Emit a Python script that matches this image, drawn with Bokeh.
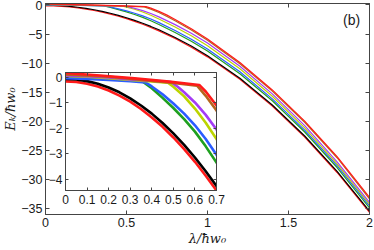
from bokeh.plotting import figure
from bokeh.models import LinearAxis, FixedTicker, Label, GridBox
from bokeh.embed import file_html
from bokeh.resources import INLINE

# ---- data (lambda / hbar w0 , E_k / hbar w0) ----
lam_red_low = [0, 0.05, 0.1, 0.15, 0.2, 0.25, 0.3, 0.35, 0.4, 0.45, 0.5, 0.55, 0.6, 0.65, 0.7,
               0.8, 0.9, 1.0, 1.2, 1.4, 1.6, 1.8, 2.0]
e_red_low = [-0.15, -0.17, -0.24, -0.35, -0.51, -0.71, -0.95, -1.24, -1.57, -1.94, -2.36, -2.82,
             -3.32, -3.87, -4.45, -5.77, -7.25, -8.92, -12.78, -17.38, -22.71, -28.78, -35.62]

lam_black = [0, 0.05, 0.1, 0.15, 0.2, 0.25, 0.3, 0.35, 0.4, 0.45, 0.5, 0.55, 0.6, 0.65, 0.7,
             0.8, 0.9, 1.0, 1.2, 1.4, 1.6, 1.8, 2.0]
e_black = [-0.05, -0.07, -0.14, -0.24, -0.39, -0.58, -0.82, -1.10, -1.42, -1.79, -2.20, -2.65,
           -3.15, -3.69, -4.27, -5.58, -7.06, -8.72, -12.58, -17.18, -22.51, -28.58, -35.41]

lam_green = [0, 0.1, 0.2, 0.3, 0.355, 0.4, 0.45, 0.5, 0.55, 0.6, 0.65, 0.7, 0.8, 0.9, 1.0,
             1.2, 1.4, 1.6, 1.8, 2.0]
e_green = [0.04, 0.01, -0.04, -0.10, -0.14, -0.42, -0.80, -1.20, -1.64, -2.13, -2.71, -3.35,
           -4.72, -6.22, -7.92, -11.82, -16.46, -21.83, -27.93, -34.85]

lam_blue = [0, 0.1, 0.2, 0.3, 0.37, 0.4, 0.45, 0.5, 0.55, 0.6, 0.65, 0.7, 0.8, 0.9, 1.0,
            1.2, 1.4, 1.6, 1.8, 2.0]
e_blue = [-0.02, -0.05, -0.09, -0.14, -0.19, -0.35, -0.66, -1.02, -1.42, -1.88, -2.42, -3.04,
          -4.38, -5.88, -7.58, -11.48, -16.13, -21.50, -27.60, -34.50]

lam_yellow = [0, 0.1, 0.2, 0.3, 0.4, 0.475, 0.5, 0.55, 0.6, 0.65, 0.7, 0.8, 0.9, 1.0,
              1.2, 1.4, 1.6, 1.8, 2.0]
e_yellow = [0.06, 0.03, -0.02, -0.09, -0.15, -0.20, -0.36, -0.74, -1.22, -1.78, -2.42, -3.80,
            -5.30, -7.00, -10.95, -15.68, -21.12, -27.30, -34.20]

lam_purple = [0, 0.1, 0.2, 0.3, 0.4, 0.49, 0.52, 0.55, 0.6, 0.65, 0.7, 0.8, 0.9, 1.0,
              1.2, 1.4, 1.6, 1.8, 2.0]
e_purple = [0.08, 0.05, 0.0, -0.07, -0.12, -0.18, -0.36, -0.58, -0.98, -1.47, -2.05, -3.38,
            -4.85, -6.52, -10.53, -15.28, -20.74, -26.95, -33.91]

lam_brown = [0, 0.2, 0.32, 0.48, 0.61, 0.65, 0.7, 0.75, 0.8, 0.9, 1.0, 1.2, 1.4, 1.6, 1.8, 2.0]
e_brown = [0.12, 0.03, -0.06, -0.19, -0.32, -0.72, -1.30, -1.97, -2.70, -4.30, -6.05, -10.10,
           -14.80, -20.15, -26.25, -33.30]

lam_red_top = [0, 0.16, 0.32, 0.48, 0.62, 0.65, 0.7, 0.75, 0.8, 0.9, 1.0, 1.2, 1.4, 1.6, 1.8, 2.0]
e_red_top = [0.18, 0.08, -0.03, -0.16, -0.29, -0.55, -1.10, -1.75, -2.50, -4.10, -5.85, -9.90,
             -14.60, -19.95, -26.05, -33.05]

x_ticks = [0, 0.5, 1, 1.5, 2]
y_ticks = [-35, -30, -25, -20, -15, -10, -5, 0]
inset_x_ticks = [0, 0.1, 0.2, 0.3, 0.4, 0.5, 0.6, 0.7]
inset_y_ticks = [-4, -3, -2, -1, 0]

series = [
    (lam_red_low, e_red_low, "#ff1a1a"),
    (lam_black, e_black, "#000000"),
    (lam_green, e_green, "#1fa01f"),
    (lam_blue, e_blue, "#2a5cff"),
    (lam_yellow, e_yellow, "#bcd400"),
    (lam_purple, e_purple, "#a43cf5"),
    (lam_brown, e_brown, "#b5651d"),
    (lam_red_top, e_red_top, "#ff1a1a"),
]

FONT = "Liberation Sans"
AX = "#444444"


def fmt(v):
    s = ("%g" % v)
    return s.replace("-", "\u2212")


def style_axis(ax, ticks, show_labels, size, tick_len):
    ax.ticker = FixedTicker(ticks=ticks)
    ax.major_label_overrides = {t: (fmt(t) if show_labels else "") for t in ticks}
    ax.major_tick_in = tick_len
    ax.major_tick_out = 0
    ax.minor_tick_in = 0
    ax.minor_tick_out = 0
    ax.axis_line_color = AX
    ax.major_tick_line_color = AX
    ax.major_label_text_font = FONT
    ax.major_label_text_font_size = size
    ax.major_label_text_color = "#1a1a1a"
    ax.major_label_standoff = 3


# ---- main figure ----
p = figure(width=373, height=250, x_range=(0, 2), y_range=(-36, 0.25),
           output_backend="svg", toolbar_location=None,
           min_border_left=44, min_border_right=4, min_border_top=3, min_border_bottom=36)
p.frame_align = False
p.grid.visible = False
p.outline_line_color = AX
p.background_fill_color = "white"
p.border_fill_color = "white"

style_axis(p.xaxis[0], x_ticks, True, "12.5px", 4)
style_axis(p.yaxis[0], y_ticks, True, "12.5px", 4)
p.xaxis[0].axis_label = "\u03bb/\u0127w\u2080"
p.yaxis[0].axis_label = "E\u2096/\u0127w\u2080"
for ax in (p.xaxis[0], p.yaxis[0]):
    ax.axis_label_text_font = "DejaVu Serif"
    ax.axis_label_text_font_style = "italic"
    ax.axis_label_text_font_size = "13px"
    ax.axis_label_standoff = 1
    ax.axis_label_text_color = "#1a1a1a"
p.yaxis[0].axis_label_standoff = 0

top_ax = LinearAxis()
style_axis(top_ax, x_ticks, False, "1px", 4)
top_ax.major_label_standoff = 0
p.add_layout(top_ax, "above")
right_ax = LinearAxis()
style_axis(right_ax, y_ticks, False, "1px", 4)
right_ax.major_label_standoff = 0
p.add_layout(right_ax, "right")

for lam, e, c in series:
    p.line(lam, e, line_color=c, line_width=1.2)

p.add_layout(Label(x=1.89, y=-2.6, text="(b)", text_font=FONT, text_font_size="14px",
                   text_align="center", text_baseline="middle", text_color="#1a1a1a"))

# ---- inset figure ----
ins = figure(width=185, height=138, x_range=(0, 0.7), y_range=(-4.45, 0.2),
             output_backend="svg", toolbar_location=None,
             min_border_left=24, min_border_right=10, min_border_top=2, min_border_bottom=18)
ins.frame_align = False
ins.grid.visible = False
ins.outline_line_color = AX
ins.background_fill_color = "white"
ins.border_fill_color = None
style_axis(ins.xaxis[0], inset_x_ticks, True, "12px", 3)
style_axis(ins.yaxis[0], inset_y_ticks, True, "12px", 3)
ins.xaxis[0].major_label_standoff = 4
ins.yaxis[0].major_label_standoff = 3
itop = LinearAxis()
style_axis(itop, inset_x_ticks, False, "1px", 3)
itop.major_label_standoff = 0
ins.add_layout(itop, "above")
iright = LinearAxis()
style_axis(iright, inset_y_ticks, False, "1px", 3)
iright.major_label_standoff = 0
ins.add_layout(iright, "right")

for lam, e, c in series:
    ins.line(lam, e, line_color=c, line_width=2.6)

ins.margin = (70, 0, 0, 41)

grid = GridBox(children=[(p, 0, 0), (ins, 0, 0)])

open("out.html", "w").write(file_html(grid, INLINE))
